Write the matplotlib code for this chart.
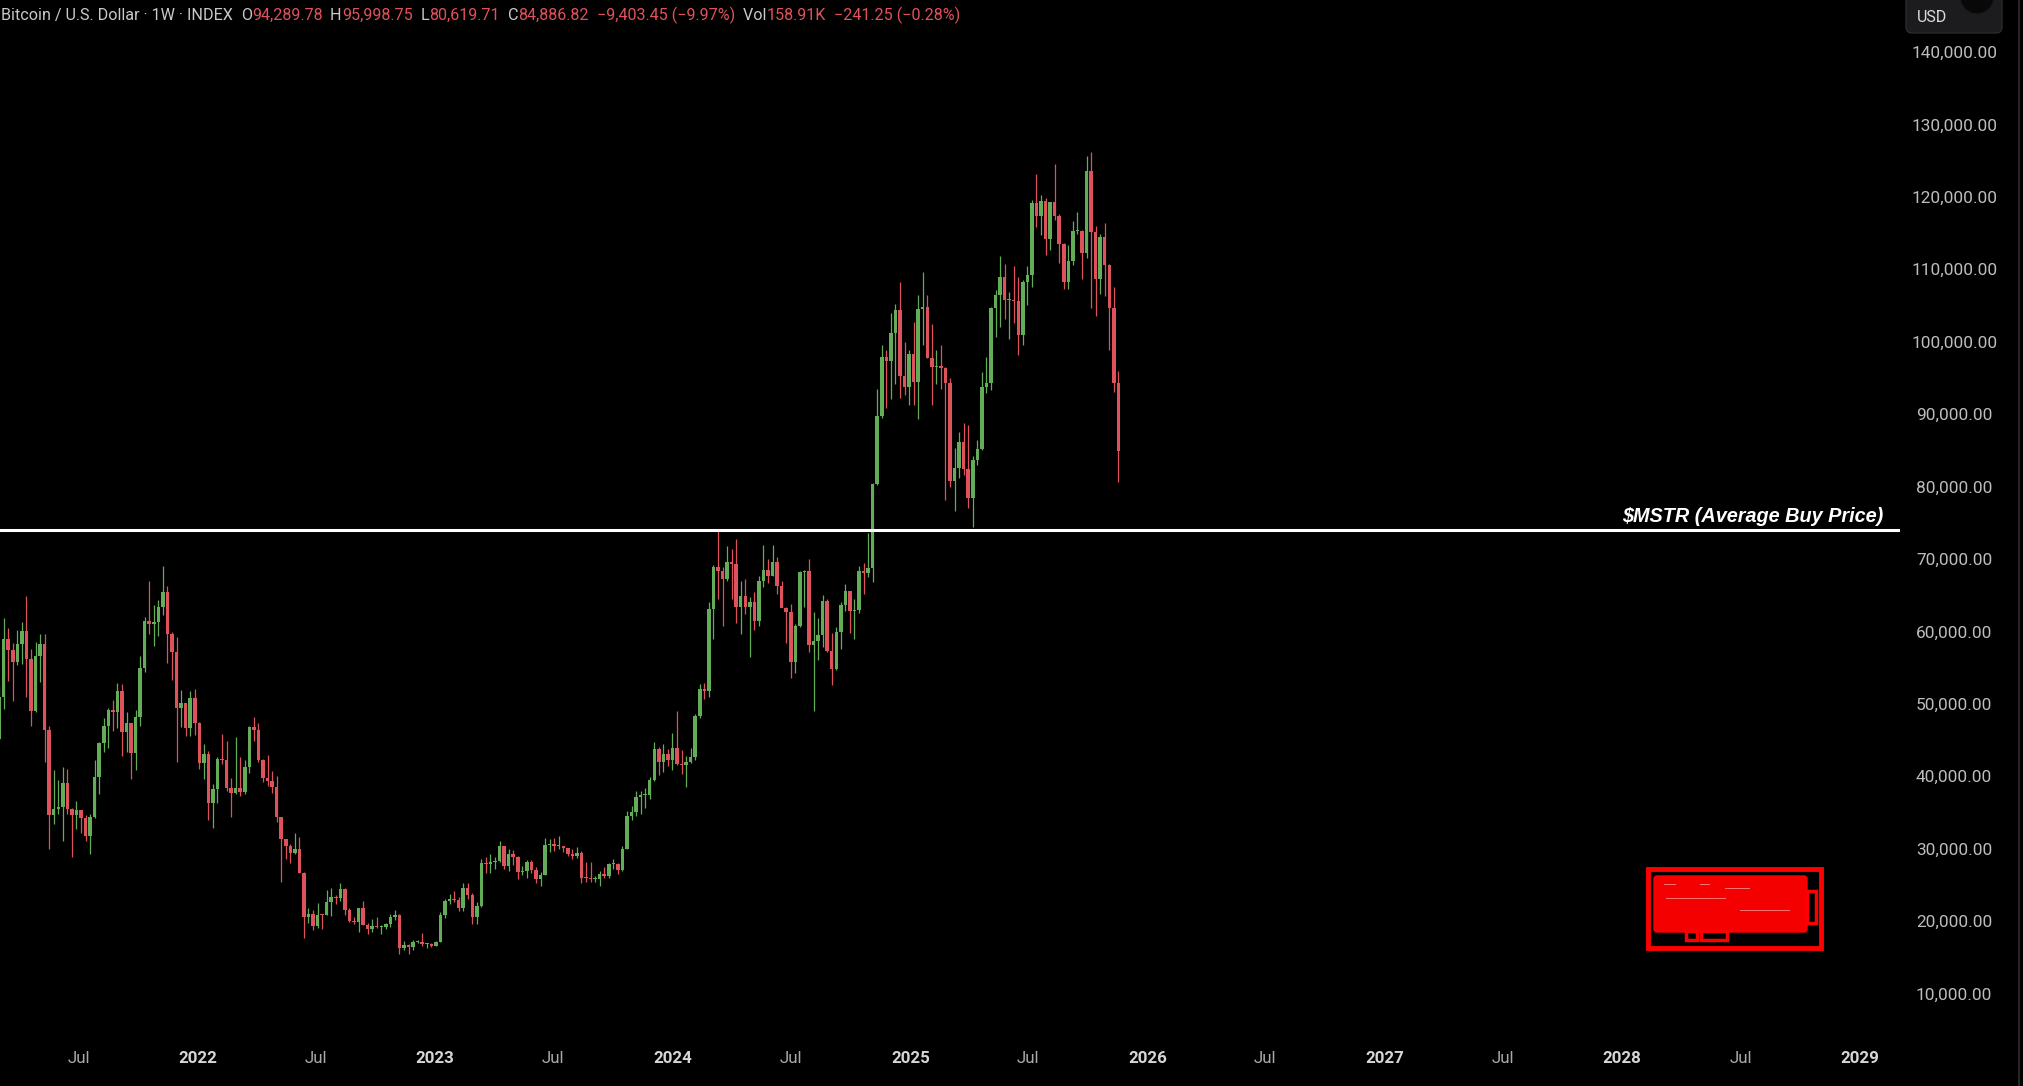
import numpy as np
import pandas as pd
import matplotlib
matplotlib.use('Agg')
import matplotlib.pyplot as plt
import matplotlib.dates as mdates
from matplotlib.patches import Rectangle, FancyBboxPatch, Circle
from matplotlib.transforms import Affine2D
from matplotlib.offsetbox import TextArea, HPacker, AnchoredOffsetbox

# weekly BTC/USD candles (thousands of USD), week of 2021-03-01 .. 2025-11-17
opens_2021 = [45.2, 51.0, 59.0, 57.4, 55.8, 58.2, 60.0, 56.2, 49.0, 56.6, 58.2, 46.4, 34.7, 35.5, 35.8,
              39.1, 35.5, 34.7, 35.3, 34.2, 31.8, 34.3, 39.9, 44.6, 47.0, 49.2, 48.9, 51.8, 46.1, 47.3,
              43.2, 48.2, 54.9, 61.5, 61.0, 61.3, 63.3, 65.5, 59.7, 57.2, 49.4, 50.1, 46.7, 50.8]
highs_2021 = [52.6, 61.8, 60.5, 58.4, 60.2, 61.3, 64.9, 57.5, 58.5, 59.6, 59.6, 46.9, 40.9, 39.5, 41.3,
              41.0, 35.6, 36.6, 35.3, 34.6, 34.8, 42.2, 44.7, 48.1, 49.4, 50.5, 52.9, 52.8, 48.8, 47.3,
              49.2, 56.6, 62.0, 67.0, 63.7, 64.3, 69.0, 66.3, 59.9, 59.2, 51.9, 50.1, 51.8, 52.1]
lows_2021 = [44.9, 49.3, 53.2, 50.4, 55.4, 55.5, 51.0, 47.0, 48.8, 53.0, 42.0, 30.0, 33.4, 34.8, 31.0,
             34.8, 28.8, 32.7, 32.1, 31.0, 29.3, 34.2, 37.5, 43.4, 43.9, 46.3, 46.6, 42.8, 43.4, 39.6,
             40.8, 46.9, 54.4, 59.6, 58.0, 59.4, 62.3, 55.6, 53.3, 42.0, 46.8, 45.5, 45.6, 45.7]
closes_2021 = [51.0, 59.0, 57.4, 55.8, 58.2, 60.0, 56.2, 49.0, 56.6, 58.2, 46.4, 34.7, 35.5, 35.8, 39.1,
               35.5, 34.7, 35.3, 34.2, 31.8, 34.3, 39.9, 44.6, 47.0, 49.2, 48.9, 51.8, 46.1, 47.3, 43.2,
               48.2, 54.9, 61.5, 61.0, 61.3, 63.3, 65.5, 59.7, 57.2, 49.4, 50.1, 46.7, 50.8, 47.3]

opens_2022 = [47.3, 41.8, 43.1, 36.3, 38.2, 42.4, 42.2, 38.4, 37.7, 38.4, 37.8, 41.3, 46.8, 46.4, 42.2,
              39.7, 39.4, 38.5, 34.3, 31.3, 30.3, 29.4, 29.9, 26.6, 20.6, 21.0, 19.3, 20.9, 20.8, 22.6,
              23.3, 23.2, 24.4, 21.5, 20.0, 19.8, 21.8, 19.4, 18.9, 19.3, 19.2, 19.2, 19.6, 20.6, 20.9,
              16.3, 16.7, 16.4, 17.1, 17.1, 16.8, 16.8]
highs_2022 = [47.5, 44.5, 43.5, 38.9, 42.6, 45.8, 44.8, 39.8, 45.4, 42.6, 42.3, 47.0, 48.2, 47.4, 42.4,
              42.9, 40.7, 40.0, 34.4, 31.3, 30.6, 32.2, 31.6, 26.8, 21.8, 21.5, 22.5, 21.0, 24.3, 24.6,
              23.6, 25.2, 24.5, 21.8, 20.5, 21.8, 22.7, 19.7, 20.3, 20.5, 19.5, 19.7, 21.0, 21.5, 21.0,
              17.2, 16.8, 17.4, 17.4, 18.4, 17.0, 16.9]
lows_2022 = [41.0, 39.6, 34.0, 32.9, 36.3, 41.7, 38.0, 34.3, 37.5, 37.2, 37.6, 40.5, 44.9, 41.9, 39.2,
             38.6, 37.7, 33.7, 25.4, 28.6, 28.0, 29.2, 26.6, 17.6, 19.7, 18.8, 19.1, 18.9, 20.8, 20.7,
             22.4, 22.7, 20.9, 19.8, 19.6, 18.5, 19.4, 18.2, 18.5, 19.1, 18.2, 18.9, 19.2, 20.1, 15.5,
             16.0, 15.4, 16.0, 16.9, 16.5, 16.3, 16.4]
closes_2022 = [41.8, 43.1, 36.3, 38.2, 42.4, 42.2, 38.4, 37.7, 38.4, 37.8, 41.3, 46.8, 46.4, 42.2, 39.7,
               39.4, 38.5, 34.3, 31.3, 30.3, 29.4, 29.9, 26.6, 20.6, 21.0, 19.3, 20.9, 20.8, 22.6, 23.3,
               23.2, 24.4, 21.5, 20.0, 19.8, 21.8, 19.4, 18.9, 19.3, 19.2, 19.2, 19.6, 20.6, 20.9, 16.3,
               16.7, 16.4, 17.1, 17.1, 16.8, 16.8, 16.6]

opens_2023 = [16.6, 17.1, 20.9, 22.7, 23.0, 22.9, 21.8, 24.6, 23.6, 20.6, 22.1, 28.0, 27.9, 28.2, 28.3,
              30.3, 27.6, 29.2, 28.9, 26.8, 26.9, 28.1, 27.1, 25.8, 26.3, 30.5, 30.6, 30.3, 30.3, 30.1,
              29.3, 29.0, 29.4, 26.0, 25.9, 25.8, 25.8, 26.5, 26.2, 27.9, 27.9, 27.0, 30.0, 34.5, 35.0,
              37.1, 37.4, 37.4, 39.5, 43.8, 41.9, 43.0]
highs_2023 = [17.2, 21.3, 23.0, 23.8, 24.2, 23.3, 25.2, 25.2, 23.9, 22.6, 28.5, 28.9, 29.2, 28.8, 31.0,
              30.3, 30.0, 29.8, 29.0, 27.6, 28.4, 28.4, 27.4, 26.8, 31.4, 31.3, 31.4, 31.8, 30.4, 30.1,
              30.0, 30.2, 29.7, 28.1, 28.2, 26.2, 26.9, 27.5, 28.0, 28.6, 28.0, 30.4, 35.2, 35.9, 38.0,
              37.9, 38.4, 39.9, 44.7, 44.0, 44.4, 43.8]
lows_2023 = [16.6, 17.1, 20.4, 22.3, 22.6, 21.4, 21.4, 23.1, 19.6, 19.6, 21.9, 26.6, 26.6, 27.2, 28.2,
             27.2, 26.9, 27.7, 25.8, 26.3, 25.9, 26.6, 25.3, 24.8, 26.3, 29.6, 29.7, 30.0, 29.6, 29.0,
             28.6, 28.7, 25.2, 25.4, 25.4, 25.4, 24.9, 26.0, 26.0, 27.2, 26.5, 26.9, 29.9, 33.9, 34.5,
             34.8, 35.6, 36.8, 39.4, 40.2, 40.6, 41.4]
closes_2023 = [17.1, 20.9, 22.7, 23.0, 22.9, 21.8, 24.6, 23.6, 20.6, 22.1, 28.0, 27.9, 28.2, 28.3, 30.3,
               27.6, 29.2, 28.9, 26.8, 26.9, 28.1, 27.1, 25.8, 26.3, 30.5, 30.6, 30.3, 30.3, 30.1, 29.3,
               29.0, 29.4, 26.0, 25.9, 25.8, 25.8, 26.5, 26.2, 27.9, 27.9, 27.0, 30.0, 34.5, 35.0, 37.1,
               37.4, 37.4, 39.5, 43.8, 41.9, 43.0, 42.3]

opens_2024 = [42.3, 43.9, 41.7, 41.6, 42.0, 42.6, 48.3, 52.1, 51.7, 63.1, 68.9, 68.4, 67.2, 69.6, 69.3,
              63.4, 64.9, 63.3, 64.0, 61.5, 66.9, 68.5, 67.7, 69.6, 66.2, 63.2, 62.7, 55.8, 60.8, 68.2,
              68.3, 58.1, 58.7, 59.5, 64.2, 57.3, 54.8, 59.9, 63.6, 65.6, 62.8, 62.9, 68.4, 68.0, 68.7,
              80.4, 89.8, 97.9, 97.4, 101.2, 104.4, 95.2, 93.7]
highs_2024 = [45.9, 49.0, 43.6, 42.8, 43.9, 48.6, 52.8, 52.9, 64.0, 69.2, 73.8, 68.9, 71.8, 71.4, 72.8,
              66.9, 67.2, 64.7, 65.5, 67.7, 71.9, 70.0, 71.9, 70.2, 66.9, 63.4, 63.8, 61.0, 68.4, 68.5,
              70.0, 62.7, 61.8, 65.0, 64.5, 59.8, 60.6, 64.1, 66.5, 65.6, 64.5, 69.0, 69.5, 73.6, 80.5,
              93.5, 99.6, 98.9, 104.0, 105.2, 108.3, 99.9, 98.9]
lows_2024 = [40.8, 41.5, 40.3, 38.5, 41.8, 42.3, 48.1, 50.6, 50.9, 59.0, 64.5, 60.8, 66.9, 64.5, 61.1,
             59.6, 62.4, 56.5, 60.2, 60.8, 66.1, 66.7, 67.6, 65.1, 63.4, 58.4, 53.5, 54.3, 60.6, 63.4,
             57.2, 49.0, 56.1, 57.8, 57.2, 52.6, 54.6, 57.5, 62.8, 59.8, 58.9, 62.5, 65.1, 67.5, 66.8,
             80.2, 89.4, 90.8, 92.1, 94.2, 92.2, 92.6, 91.3]
closes_2024 = [43.9, 41.7, 41.6, 42.0, 42.6, 48.3, 52.1, 51.7, 63.1, 68.9, 68.4, 67.2, 69.6, 69.3, 63.4,
               64.9, 63.3, 64.0, 61.5, 66.9, 68.5, 67.7, 69.6, 66.2, 63.2, 62.7, 55.8, 60.8, 68.2, 68.3,
               58.1, 58.7, 59.5, 64.2, 57.3, 54.8, 59.9, 63.6, 65.6, 62.8, 62.9, 68.4, 68.0, 68.7, 80.4,
               89.8, 97.9, 97.4, 101.2, 104.4, 95.2, 93.7, 98.3]

opens_2025 = [98.3, 94.5, 104.5, 104.8, 97.7, 96.5, 96.6, 96.3, 94.3, 80.7, 82.6, 86.1, 82.4, 78.4, 83.7,
              85.2, 93.7, 94.3, 104.6, 106.4, 109.0, 105.7, 105.7, 105.6, 100.9, 108.3, 109.2, 119.1, 117.3,
              119.4, 114.2, 119.3, 117.4, 113.5, 108.3, 111.2, 115.3, 115.3, 112.2, 123.5, 115.1, 108.7,
              114.5, 110.6, 104.7, 94.28978]
highs_2025 = [102.7, 106.4, 109.6, 106.5, 102.5, 98.8, 99.5, 96.5, 95.0, 85.3, 87.5, 88.8, 88.5, 84.2, 86.4,
              95.8, 97.9, 104.8, 107.1, 111.9, 110.7, 106.8, 110.5, 108.9, 108.5, 110.5, 119.5, 123.2, 120.2,
              119.8, 119.3, 124.5, 117.6, 113.6, 113.3, 116.7, 117.9, 115.4, 125.7, 126.2, 116.0, 114.9,
              116.4, 110.7, 107.5, 95.99875]
lows_2025 = [91.2, 89.3, 99.5, 97.8, 91.2, 94.1, 93.4, 78.2, 80.0, 76.6, 81.2, 81.6, 77.1, 74.4, 83.0,
             85.1, 92.9, 93.3, 100.7, 102.0, 103.1, 100.4, 102.6, 98.2, 99.6, 105.1, 107.5, 115.8, 114.7,
             112.0, 112.7, 116.8, 110.8, 107.3, 107.3, 110.6, 114.8, 108.6, 111.6, 104.6, 103.5, 106.6,
             106.3, 98.9, 93.0, 80.61971]
closes_2025 = [94.5, 104.5, 104.8, 97.7, 96.5, 96.6, 96.3, 94.3, 80.7, 82.6, 86.1, 82.4, 78.4, 83.7, 85.2,
               93.7, 94.3, 104.6, 106.4, 109.0, 105.7, 105.7, 105.6, 100.9, 108.3, 109.2, 119.1, 117.3, 119.4,
               114.2, 119.3, 117.4, 113.5, 108.3, 111.2, 115.3, 115.3, 112.2, 123.5, 115.1, 108.7, 114.5,
               110.6, 104.7, 94.28978, 84.88682]

mstr_avg_price = 74000
y_ticks = [10000, 20000, 30000, 40000, 50000, 60000, 70000, 80000, 90000, 100000,
           110000, 120000, 130000, 140000]
x_ticks = ['2021-07-01', '2022-01-01', '2022-07-01', '2023-01-01', '2023-07-01', '2024-01-01',
           '2024-07-01', '2025-01-01', '2025-07-01', '2026-01-01', '2026-07-01', '2027-01-01',
           '2027-07-01', '2028-01-01', '2028-07-01', '2029-01-01']
x_labels = ['Jul', '2022', 'Jul', '2023', 'Jul', '2024', 'Jul', '2025', 'Jul', '2026', 'Jul', '2027',
            'Jul', '2028', 'Jul', '2029']

opens = np.array(opens_2021 + opens_2022 + opens_2023 + opens_2024 + opens_2025) * 1000
highs = np.array(highs_2021 + highs_2022 + highs_2023 + highs_2024 + highs_2025) * 1000
lows = np.array(lows_2021 + lows_2022 + lows_2023 + lows_2024 + lows_2025) * 1000
closes = np.array(closes_2021 + closes_2022 + closes_2023 + closes_2024 + closes_2025) * 1000
weeks = pd.date_range(end='2025-11-17', periods=len(closes), freq='7D')
x = mdates.date2num(weeks)

GREEN = '#63ad59'
RED = '#dd525b'
BG = '#000000'
W, H = 2023, 1086

plt.rcParams['font.family'] = ['Roboto', 'DejaVu Sans']
fig = plt.figure(figsize=(W / 100, H / 100), dpi=100, facecolor=BG)
ax = fig.add_axes([0, (H - 1035) / H, 1900 / W, 1035 / H])
ax.set_facecolor(BG)

colors = np.where(closes >= opens, GREEN, RED)
ax.vlines(x, lows, highs, colors=colors, lw=0.9, zorder=2)
bottoms = np.minimum(opens, closes)
heights = np.maximum(np.abs(closes - opens), 150)
ax.bar(x, heights, bottom=bottoms, width=5.4, color=colors, linewidth=0, zorder=3)

# average buy price line
ax.axhline(mstr_avg_price, color='white', lw=2.2, zorder=4)
ax.annotate('$MSTR (Average Buy Price)', xy=(1883 / 1900, mstr_avg_price),
            xycoords=ax.get_yaxis_transform(), xytext=(0, 5.5), textcoords='offset points',
            ha='right', va='baseline', color='white', fontsize=14.3, fontweight='bold',
            fontstyle='italic', family=['Liberation Sans', 'DejaVu Sans'])

# axes limits: pixel scale of the reference
left = mdates.date2num(pd.Timestamp('2022-01-01')) - 198 / 0.64997
right = mdates.date2num(pd.Timestamp('2022-01-01')) + 1702 / 0.64997
ax.set_xlim(left, right)
ax.set_ylim(4265, 147180)

for s in ax.spines.values():
    s.set_visible(False)

ax.yaxis.tick_right()
ax.set_yticks(y_ticks)
ax.set_yticklabels([f'{v:,.2f}' for v in y_ticks])
ax.tick_params(axis='y', length=0, pad=39, labelsize=12.4, labelcolor='#bdbdbd')
for t in ax.get_yticklabels():
    t.set_horizontalalignment('center')

ax.set_xticks(mdates.date2num(pd.to_datetime(x_ticks)))
ax.set_xticklabels(x_labels)
ax.tick_params(axis='x', length=0, pad=11.5, labelsize=12.2)
for t in ax.get_xticklabels():
    if t.get_text() == 'Jul':
        t.set_color('#a9a9a9')
    else:
        t.set_color('#d6d6d6')
        t.set_fontweight('bold')

# header line
LBL = '#c9c9c9'
VAL = '#e0525b'
parts = [('Bitcoin / U.S. Dollar · 1W · INDEX  ', LBL), ('O', LBL), ('94,289.78', VAL),
         ('  H', LBL), ('95,998.75', VAL), ('  L', LBL), ('80,619.71', VAL), ('  C', LBL),
         ('84,886.82', VAL), ('  −9,403.45 (−9.97%)', VAL), ('  Vol', LBL), ('158.91K', VAL),
         ('  −241.25 (−0.28%)', VAL)]
boxes = [TextArea(s, textprops=dict(color=c, fontsize=11.6)) for s, c in parts]
header = AnchoredOffsetbox(loc='center left', child=HPacker(children=boxes, pad=0, sep=0),
                           bbox_to_anchor=(1 / W, 1 - 15.5 / H), bbox_transform=fig.transFigure,
                           frameon=False, pad=0, borderpad=0)
fig.add_artist(header)

# pixel transform (origin top-left)
pxt = Affine2D().scale(1, -1).translate(0, H)

# USD box top right
fig.add_artist(FancyBboxPatch((1906, -10), 96, 43, boxstyle='round,pad=0,rounding_size=6',
                              fc='#1c1c1e', ec='#2b2b2e', lw=1, transform=pxt))
fig.add_artist(Circle((1977, -3), 17, fc='#080808', ec='#1a1a1c', lw=1, transform=pxt))
fig.text(1917 / W, 1 - 17 / H, 'USD', color='#dcdcdc', fontsize=11.5, va='center', ha='left')
fig.add_artist(Rectangle((2018, 0), 1.5, H, fc='#26262a', ec='none', transform=pxt))

# red watermark block
fig.add_artist(Rectangle((1648, 869), 173, 79, fc='none', ec='#ff0000', lw=3.5, transform=pxt))
fig.add_artist(FancyBboxPatch((1654, 876), 153, 56, boxstyle='round,pad=0,rounding_size=3',
                              fc='#f50000', ec='#ff0000', lw=1, transform=pxt))
fig.add_artist(Rectangle((1807, 891), 9, 32, fc='none', ec='#ff0000', lw=2.5, transform=pxt))
fig.add_artist(Rectangle((1686, 931), 11, 9, fc='none', ec='#ff0000', lw=2.5, transform=pxt))
fig.add_artist(Rectangle((1701, 931), 26, 9, fc='none', ec='#ff0000', lw=2.5, transform=pxt))
for (x0, y0, w0) in [(1664, 884, 12), (1700, 884, 10), (1725, 888, 25), (1666, 898, 60),
                     (1740, 910, 50)]:
    fig.add_artist(Rectangle((x0, y0), w0, 1.2, fc='white', ec='none', alpha=0.45, transform=pxt))

fig.savefig('out.png', dpi=100, facecolor=BG)
